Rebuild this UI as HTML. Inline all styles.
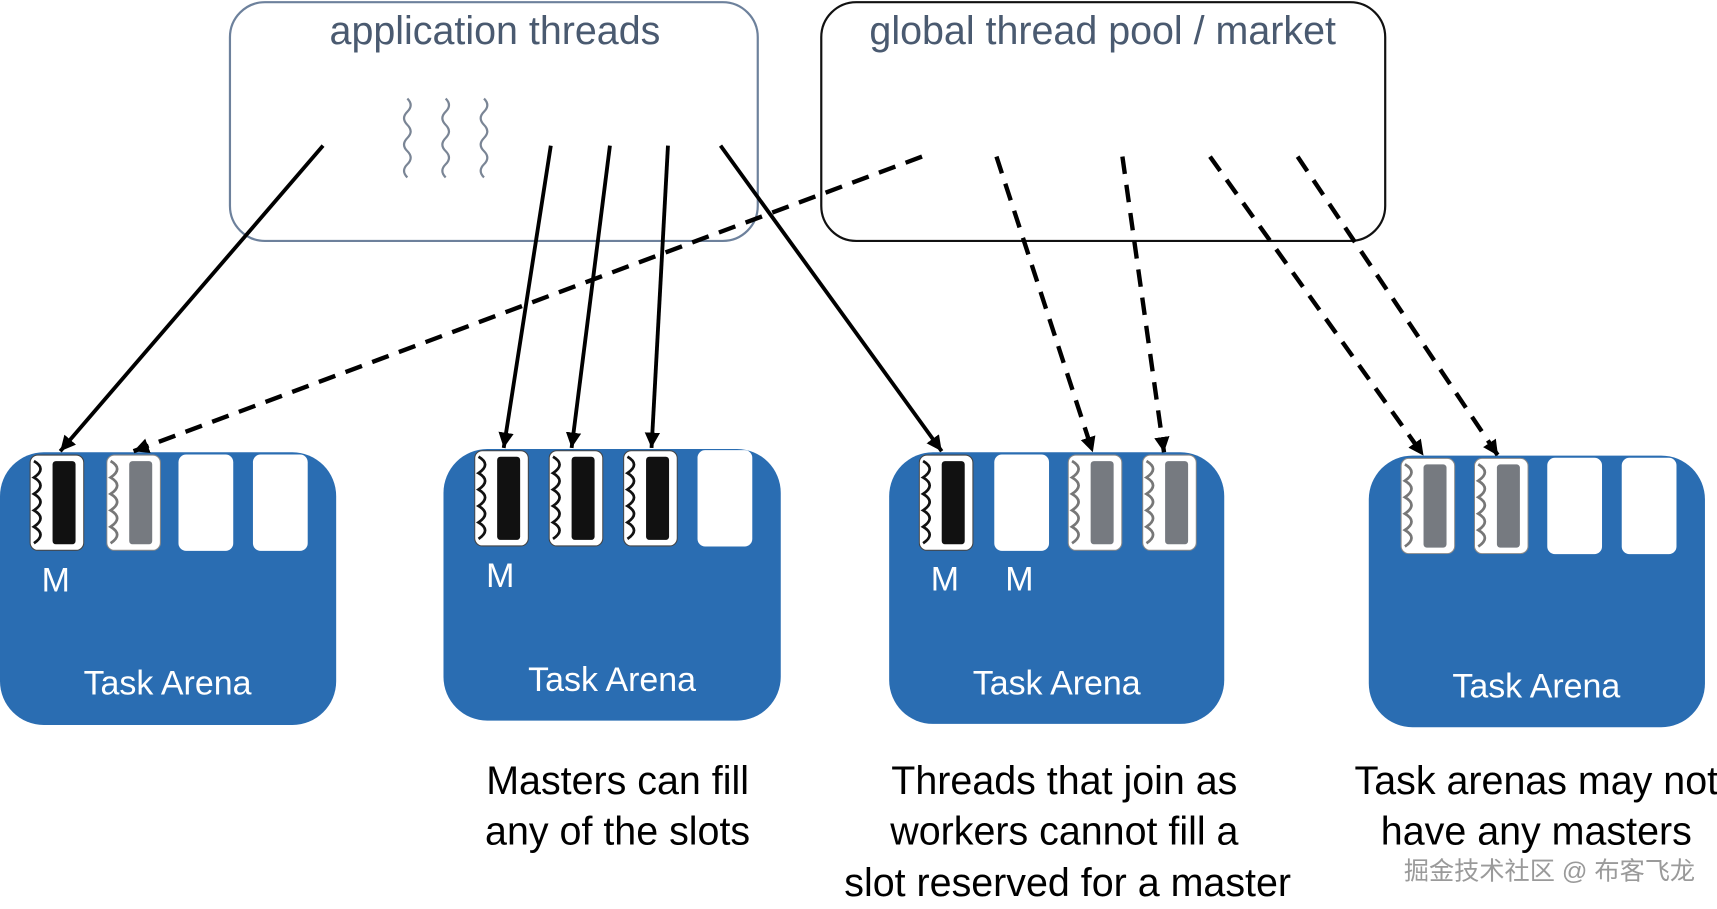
<!DOCTYPE html>
<html><head><meta charset="utf-8"><style>
html,body{margin:0;padding:0;background:#fff;}
svg{display:block}
text{font-family:"Liberation Sans","Noto Sans CJK SC",sans-serif;}
</style></head><body>
<svg width="1717" height="909" viewBox="0 0 1568 830" preserveAspectRatio="none" xmlns="http://www.w3.org/2000/svg">
<defs>
<marker id="ah" viewBox="0 0 10 10" refX="10" refY="5" markerWidth="14" markerHeight="16" orient="auto" markerUnits="userSpaceOnUse">
<path d="M0,0 L10,5 L0,10 z" fill="#000"/>
</marker>
<symbol id="sb" viewBox="0 0 50 88" width="50" height="88">
<rect x="0.5" y="0.5" width="49" height="87" rx="7" fill="#fff" stroke="#444" stroke-width="1"/>
<path d="M4,6 q12,7 0,15 q12,7 0,15 q12,7 0,15 q12,7 0,15 q12,7 0,15" fill="none" stroke="#111" stroke-width="2.5"/>
<rect x="21" y="6" width="21" height="76" rx="3" fill="#111"/>
</symbol>
<symbol id="sg" viewBox="0 0 50 88" width="50" height="88">
<rect x="0.5" y="0.5" width="49" height="87" rx="7" fill="#fff" stroke="#888" stroke-width="1"/>
<path d="M4,6 q12,7 0,15 q12,7 0,15 q12,7 0,15 q12,7 0,15 q12,7 0,15" fill="none" stroke="#777" stroke-width="2.5"/>
<rect x="21" y="6" width="21" height="76" rx="3" fill="#767a80"/>
</symbol>
</defs>

<rect x="210" y="2" width="482" height="218" rx="32" fill="none" stroke="#6d819c" stroke-width="2"/>
<text x="452" y="40" font-size="36" text-anchor="middle" fill="#4a5a70">application threads</text>
<rect x="750" y="2" width="515" height="218" rx="32" fill="none" stroke="#111" stroke-width="2"/>
<text x="1007" y="40" font-size="36" text-anchor="middle" fill="#4a5a70">global thread pool / market</text>
<g fill="none" stroke="#7a8595" stroke-width="2">
<path d="M372,90 q6,6 0,12 q-6,6 0,12 q6,6 0,12 q-6,6 0,12 q6,6 0,12 q-6,6 0,12"/>
<path d="M407,90 q6,6 0,12 q-6,6 0,12 q6,6 0,12 q-6,6 0,12 q6,6 0,12 q-6,6 0,12"/>
<path d="M442,90 q6,6 0,12 q-6,6 0,12 q6,6 0,12 q-6,6 0,12 q6,6 0,12 q-6,6 0,12"/>
</g>

<g fill="#2a6db2">
<rect x="0" y="413" width="307" height="249" rx="40"/>
<rect x="405" y="410" width="308" height="248" rx="40"/>
<rect x="812" y="413" width="306" height="248" rx="40"/>
<rect x="1250" y="416" width="307" height="248" rx="40"/>
</g>
<use href="#sb" x="27" y="415"/>
<use href="#sg" x="97" y="415"/>
<rect x="163" y="415" width="50" height="88" rx="7" fill="#fff"/>
<rect x="231" y="415" width="50" height="88" rx="7" fill="#fff"/>

<use href="#sb" x="433" y="411"/>
<use href="#sb" x="501" y="411"/>
<use href="#sb" x="569" y="411"/>
<rect x="637" y="411" width="50" height="88" rx="7" fill="#fff"/>

<use href="#sb" x="839" y="415"/>
<rect x="908" y="415" width="50" height="88" rx="7" fill="#fff"/>
<use href="#sg" x="975" y="415"/>
<use href="#sg" x="1043" y="415"/>

<use href="#sg" x="1279" y="418"/>
<use href="#sg" x="1346" y="418"/>
<rect x="1413" y="418" width="50" height="88" rx="7" fill="#fff"/>
<rect x="1481" y="418" width="50" height="88" rx="7" fill="#fff"/>

<g fill="#fff" font-size="31">
<text x="38" y="540">M</text>
<text x="444" y="536">M</text>
<text x="850" y="539">M</text>
<text x="918" y="539">M</text>
<text x="153" y="634" text-anchor="middle">Task Arena</text>
<text x="559" y="631" text-anchor="middle">Task Arena</text>
<text x="965" y="634" text-anchor="middle">Task Arena</text>
<text x="1403" y="637" text-anchor="middle">Task Arena</text>
</g>

<g stroke="#000" stroke-width="3.5" fill="none" marker-end="url(#ah)">
<line x1="295" y1="133" x2="55" y2="412"/>
<line x1="503" y1="133" x2="460" y2="409"/>
<line x1="557" y1="133" x2="522" y2="409"/>
<line x1="610" y1="133" x2="595" y2="409"/>
<line x1="658" y1="133" x2="860" y2="412"/>
</g>
<g stroke="#000" stroke-width="4" fill="none" stroke-dasharray="16,10" marker-end="url(#ah)">
<line x1="842" y1="143" x2="122" y2="412"/>
<line x1="910" y1="143" x2="998" y2="413"/>
<line x1="1025" y1="143" x2="1063" y2="413"/>
<line x1="1105" y1="143" x2="1300" y2="416"/>
<line x1="1185" y1="143" x2="1368" y2="416"/>
</g>

<g fill="#000" font-size="36" text-anchor="middle">
<text x="564" y="725">Masters can fill</text>
<text x="564" y="771">any of the slots</text>
<text x="972" y="725">Threads that join as</text>
<text x="972" y="771">workers cannot fill a</text>
<text x="975" y="818">slot reserved for a master</text>
<text x="1403" y="725">Task arenas may not</text>
<text x="1403" y="771">have any masters</text>
</g>
<text x="1415" y="803" font-size="23" text-anchor="middle" fill="#9a9a9a">掘金技术社区 @ 布客飞龙</text>
</svg>
</body></html>
